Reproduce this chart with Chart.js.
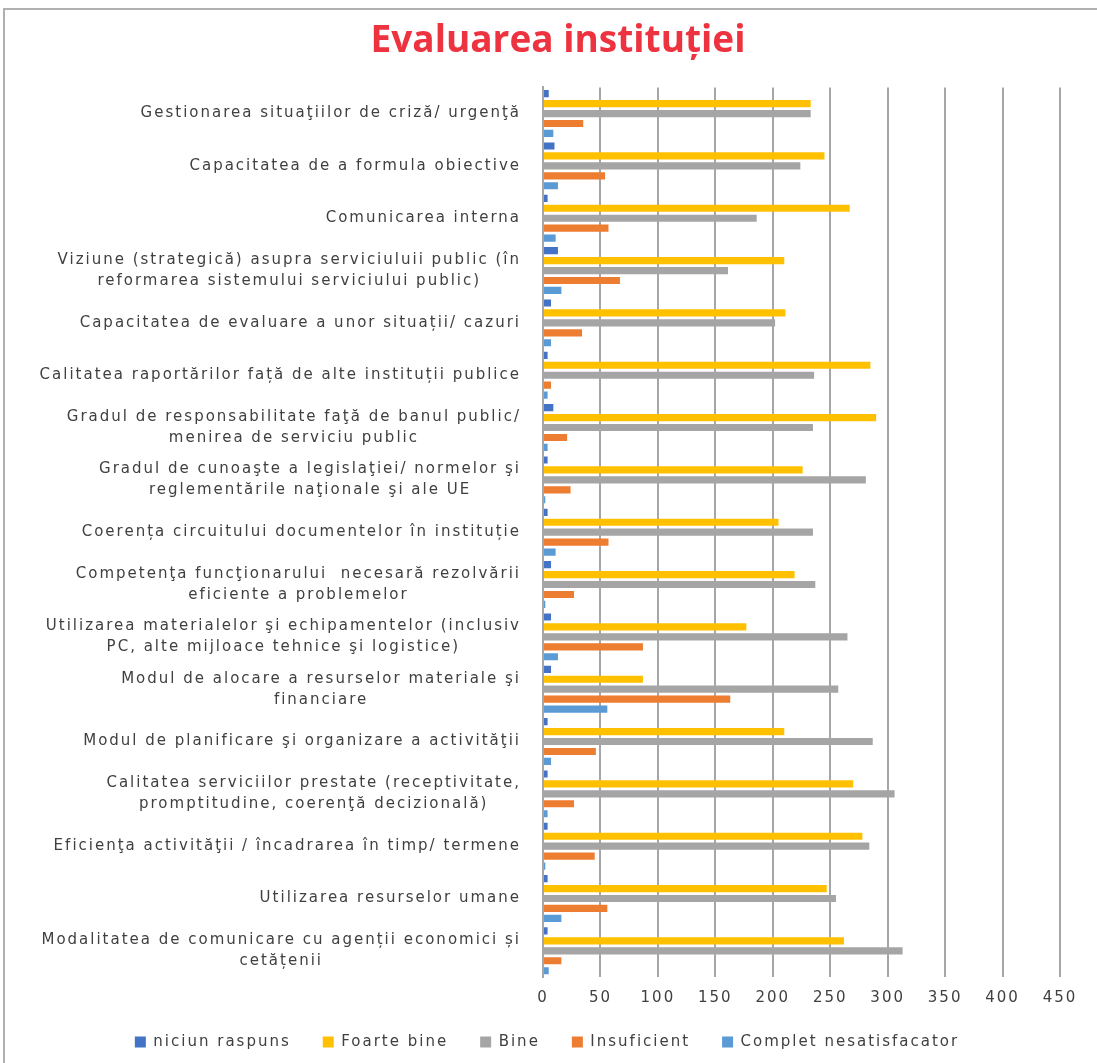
<!DOCTYPE html>
<html>
<head>
<meta charset="utf-8">
<script src="https://cdn.jsdelivr.net/npm/chart.js@4/dist/chart.umd.min.js"></script>
<style>
  html,body{margin:0;padding:0;background:#fff;}
  #wrap{position:absolute;left:0;top:0;width:1097px;height:1063px;}
  #frame{position:absolute;left:3px;top:8px;width:1094px;height:1055px;border-left:2px solid #b0b0b0;border-top:2px solid #b0b0b0;box-sizing:border-box;}
  canvas{position:absolute;left:0;top:0;}
</style>
</head>
<body>
<div id="wrap">
  <div id="frame"></div>
  <canvas id="c" width="1097" height="1063"></canvas>
</div>
<script>
const categories = [
  "Gestionarea situaţiilor de criză/ urgenţă",
  "Capacitatea de a formula obiective",
  "Comunicarea interna",
  ["Viziune (strategică) asupra serviciuluii public (în", "reformarea sistemului serviciului public)"],
  "Capacitatea de evaluare a unor situații/ cazuri",
  "Calitatea raportărilor față de alte instituții publice",
  ["Gradul de responsabilitate faţă de banul public/", "menirea de serviciu public"],
  ["Gradul de cunoaşte a legislaţiei/ normelor şi", "reglementările naţionale şi ale UE"],
  "Coerența circuitului documentelor în instituție",
  ["Competenţa funcţionarului  necesară rezolvării", "eficiente a problemelor"],
  ["Utilizarea materialelor şi echipamentelor (inclusiv", "PC, alte mijloace tehnice şi logistice)"],
  ["Modul de alocare a resurselor materiale şi", "financiare"],
  "Modul de planificare şi organizare a activităţii",
  ["Calitatea serviciilor prestate (receptivitate,", "promptitudine, coerenţă decizională)"],
  "Eficienţa activităţii / încadrarea în timp/ termene",
  "Utilizarea resurselor umane",
  ["Modalitatea de comunicare cu agenții economici și", "cetățenii"]
];
const seriesNames = ["niciun raspuns", "Foarte bine", "Bine", "Insuficient", "Complet nesatisfacator"];
const niciunRaspuns = [5, 10, 4, 13, 7, 4, 9, 4, 4, 7, 7, 7, 4, 4, 4, 4, 4];
const foarteBine = [233, 245, 267, 210, 211, 285, 290, 226, 205, 219, 177, 87, 210, 270, 278, 247, 262];
const bine = [233, 224, 186, 161, 202, 236, 235, 281, 235, 237, 265, 257, 287, 306, 284, 255, 313];
const insuficient = [35, 54, 57, 67, 34, 7, 21, 24, 57, 27, 87, 163, 46, 27, 45, 56, 16];
const completNesatisfacator = [9, 13, 11, 16, 7, 4, 4, 2, 11, 2, 13, 56, 7, 4, 2, 16, 5];
const xTicks = [0, 50, 100, 150, 200, 250, 300, 350, 400, 450];
const colors = ["#4472C4", "#FFC000", "#A5A5A5", "#ED7D31", "#5B9BD5"];

const seriesData = [niciunRaspuns, foarteBine, bine, insuficient, completNesatisfacator];
const SPACING = '2px';
const LEGEND_PAD = 32;

const spacingPlugin = {
  id: 'spacing',
  beforeUpdate(chart) { chart.ctx.letterSpacing = SPACING; },
  beforeDraw(chart) {
    chart.ctx.letterSpacing = SPACING;
    const tb = chart.titleBlock;
    if (tb && !tb._patched) {
      const orig = tb.draw.bind(tb);
      tb.draw = function () {
        const ctx = this.ctx; const prev = ctx.letterSpacing;
        ctx.save();
        ctx.letterSpacing = '0px';
        ctx.translate(28, 0);
        orig();
        ctx.restore();
        ctx.letterSpacing = prev;
      };
      tb._patched = true;
    }
  },
  afterLayout(chart) {
    const lg = chart.legend;
    if (lg) {
      const want = 1042 - LEGEND_PAD - 7.5;
      lg.top = want;
      lg.height = chart.height - want;
      lg.bottom = chart.height;
      lg.left += 17;
      lg.right += 17;
    }
  }
};

const yLabelPlugin = {
  id: 'yLabels',
  afterDraw(chart) {
    const ctx = chart.ctx, ys = chart.scales.y;
    ctx.save();
    ctx.letterSpacing = SPACING;
    ctx.font = '15px "DejaVu Sans"';
    ctx.fillStyle = '#404040';
    ctx.textAlign = 'center';
    ctx.textBaseline = 'middle';
    const right = ys.right - 22;
    const lh = 21;
    categories.forEach((lab, i) => {
      const lines = Array.isArray(lab) ? lab : [lab];
      const w = Math.max(...lines.map(l => ctx.measureText(l).width));
      const cx = right - w / 2;
      const y0 = ys.getPixelForTick(i) - (lines.length - 1) * lh / 2;
      lines.forEach((l, j) => ctx.fillText(l, cx, y0 + j * lh));
    });
    ctx.restore();
  }
};

new Chart(document.getElementById('c'), {
  type: 'bar',
  data: {
    labels: categories,
    datasets: seriesNames.map((n, i) => ({
      label: n,
      data: seriesData[i],
      backgroundColor: colors[i],
      borderWidth: 0,
      categoryPercentage: 0.95,
      barPercentage: 0.72
    }))
  },
  plugins: [spacingPlugin, yLabelPlugin],
  options: {
    indexAxis: 'y',
    responsive: false,
    animation: false,
    layout: { padding: { left: 0, right: 37, top: 19, bottom: 0 } },
    plugins: {
      title: {
        display: true,
        text: 'Evaluarea instituției',
        color: '#EE3340',
        font: { family: 'Open Sans', size: 37, weight: 'bold' },
        padding: { top: 0, bottom: 24 }
      },
      legend: {
        position: 'bottom',
        maxHeight: 44,
        labels: {
          boxWidth: 11, boxHeight: 11,
          color: '#404040',
          font: { family: 'DejaVu Sans', size: 15 },
          padding: LEGEND_PAD
        }
      },
      tooltip: { enabled: false }
    },
    scales: {
      x: {
        min: 0, max: 450,
        afterBuildTicks: (s) => { s.ticks = xTicks.map(v => ({ value: v })); },
        ticks: { color: '#404040', font: { family: 'DejaVu Sans', size: 15 }, padding: 12 },
        grid: { color: '#A6A6A6', lineWidth: 2, drawTicks: false },
        border: { display: false }
      },
      y: {
        afterFit: (s) => { s.width = 543; },
        ticks: { display: false },
        grid: { display: false },
        border: { display: true, color: '#A6A6A6', width: 2 }
      }
    }
  }
});
</script>
</body>
</html>
